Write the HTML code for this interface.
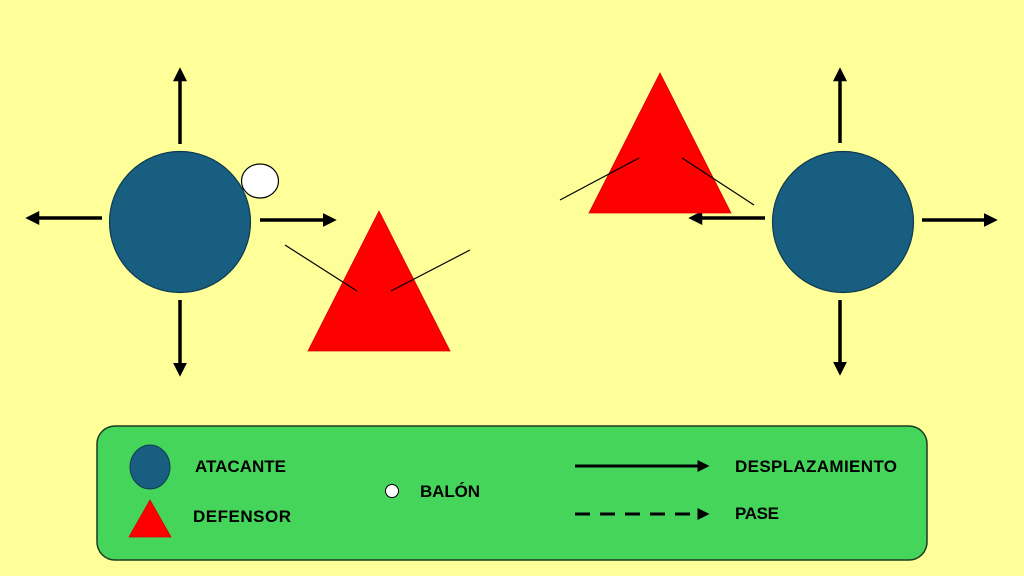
<!DOCTYPE html>
<html><head><meta charset="utf-8"><style>
html,body{margin:0;padding:0;background:#ffff99;}
svg{display:block}
text{font-family:"Liberation Sans Narrow","Liberation Sans",sans-serif;font-weight:bold;font-size:17px;fill:#000}
</style></head><body>
<svg width="1024" height="576" viewBox="0 0 1024 576" xmlns="http://www.w3.org/2000/svg">
<defs>
<marker id="ah" markerWidth="4" markerHeight="4" refX="1.5" refY="2" orient="auto" markerUnits="strokeWidth">
<path d="M0,0 L4,2 L0,4 Z" fill="#000"/></marker>
</defs>
<rect width="1024" height="576" fill="#ffff99"/>
<g stroke="#000" stroke-width="3.5" fill="none" marker-end="url(#ah)">
<line x1="180" y1="144" x2="180" y2="76"/>
<line x1="102" y1="218" x2="34" y2="218"/>
<line x1="260" y1="220" x2="328" y2="220"/>
<line x1="180" y1="300" x2="180" y2="368"/>
<line x1="840" y1="143" x2="840" y2="76"/>
<line x1="922" y1="220" x2="989" y2="220"/>
<line x1="840" y1="300" x2="840" y2="367"/>
<line x1="765" y1="218" x2="697" y2="218"/>
</g>
<circle cx="180" cy="222" r="70.5" fill="#185e80" stroke="#0e3a50" stroke-width="1.2"/>
<ellipse cx="260" cy="181" rx="18.5" ry="17" fill="#fff" stroke="#000" stroke-width="1.2"/>
<circle cx="843" cy="222" r="70.5" fill="#185e80" stroke="#0e3a50" stroke-width="1.2"/>
<polygon points="379,211 308,351 450,351" fill="#ff0000" stroke="#d00" stroke-width="0.8"/>
<polygon points="660,73 589,213 731,213" fill="#ff0000" stroke="#d00" stroke-width="0.8"/>
<g stroke="#000" stroke-width="1.2">
<line x1="285" y1="245" x2="357" y2="291"/>
<line x1="391" y1="291" x2="470" y2="250"/>
<line x1="560" y1="200" x2="639" y2="158"/>
<line x1="682" y1="158" x2="754" y2="205"/>
</g>
<rect x="97" y="426" width="830" height="134" rx="18" fill="#45d55a" stroke="#1d3a22" stroke-width="1.5"/>
<ellipse cx="150" cy="467" rx="20" ry="22" fill="#185e80" stroke="#0e3a50" stroke-width="1"/>
<polygon points="150,500 129,537 171,537" fill="#ff0000" stroke="#d00" stroke-width="0.8"/>
<circle cx="392" cy="491" r="6.5" fill="#fff" stroke="#000" stroke-width="1"/>
<text x="195" y="472" textLength="91">ATACANTE</text>
<text x="193" y="522" textLength="98">DEFENSOR</text>
<text x="420" y="497" textLength="60">BALÓN</text>
<text x="735" y="472" textLength="162">DESPLAZAMIENTO</text>
<text x="735" y="519" textLength="44">PASE</text>
<line x1="575" y1="466" x2="702" y2="466" stroke="#000" stroke-width="3" marker-end="url(#ah)"/>
<line x1="575" y1="514" x2="702" y2="514" stroke="#000" stroke-width="3" stroke-dasharray="15,10" marker-end="url(#ah)"/>
</svg>
</body></html>
